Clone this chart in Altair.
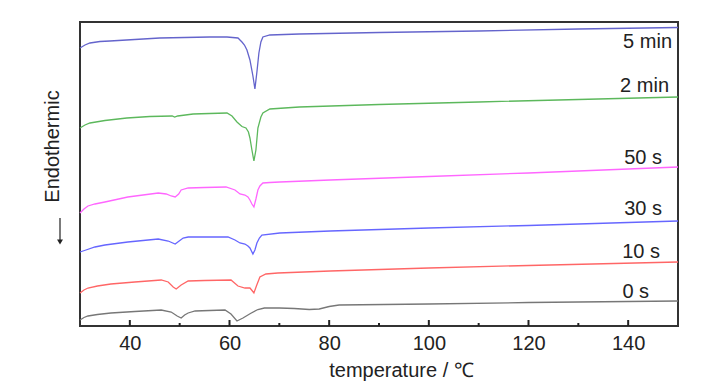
import altair as alt
import pandas as pd

# ---- data ----
series = ["5 min", "2 min", "50 s", "30 s", "10 s", "0 s"]
colors = ["#6464cc", "#5cb85c", "#ff66ff", "#6666ff", "#ff6666", "#777777"]

t_5min = [30, 31, 32, 34, 36, 41, 46, 51, 56, 59.5, 61.7, 62.5, 63, 63.5, 64.1, 64.7, 65.1, 65.5, 65.9, 66.3, 66.7, 68.1, 74, 90, 110, 130, 150]
v_5min = [278, 281, 283, 284.5, 285, 286.5, 288, 288.5, 289, 289, 288, 284, 281, 276, 266, 250, 237, 254, 273, 284, 289, 291, 292, 293.5, 295, 297, 298.5]

t_2min = [30, 31, 32, 35, 39.4, 44, 48.5, 49, 49.6, 52.7, 56, 59.5, 60.5, 61.5, 62.5, 63.3, 63.8, 64.1, 64.5, 64.9, 65.3, 65.7, 66.3, 66.7, 68.1, 74, 90, 110, 130, 150]
v_2min = [198, 201, 203, 205.5, 208, 209.5, 210, 209, 210, 212, 212.5, 213, 210, 204, 199.5, 198, 194, 188, 176, 165, 176, 198, 209, 213, 217, 219, 221.5, 224, 226.5, 229]

t_50s = [30, 30.8, 31.6, 33, 35, 39.6, 45.7, 47.3, 48.3, 49.1, 49.8, 50.3, 51.7, 55, 59.3, 61.1, 62.1, 63.1, 63.7, 64.1, 64.5, 64.9, 65.3, 65.7, 66.1, 66.7, 68.1, 70.1, 80.2, 100, 120, 150]
v_50s = [113, 117, 120, 122, 124, 129, 133, 132, 130, 129, 132, 136, 138, 138.5, 139, 136, 132, 131, 129, 126, 122, 119, 127, 136, 140, 143, 143.5, 144, 146, 149.5, 153, 159]

t_30s = [30, 31.2, 33, 35, 39.6, 45.7, 47.7, 49.1, 49.9, 50.7, 51.7, 55, 59.7, 61.1, 62.1, 63.1, 63.7, 64.1, 64.7, 65.1, 65.5, 66, 66.5, 70.1, 80.2, 100, 120, 150]
v_30s = [74, 76, 79, 81, 84, 87, 85, 82, 85, 88, 89, 89, 89, 86, 83, 82, 80, 78, 72, 76, 83, 88, 91, 93, 95, 98, 100.5, 105]

t_10s = [30, 30.8, 31.6, 33.5, 36.2, 41, 46.3, 47.7, 48.7, 49.3, 50.3, 51.7, 55, 60.3, 61.7, 63.1, 64.1, 64.6, 64.9, 65.4, 66.1, 67.3, 69.7, 80.2, 100, 120, 150]
v_10s = [33, 36, 38, 40, 42, 44, 46, 44, 39, 37, 41, 45, 45.5, 46, 40, 38, 38, 35, 33, 40, 49, 52, 53, 55, 58, 60.5, 64]

t_0s = [30, 30.8, 31.6, 33.5, 36.2, 41, 46.3, 48.3, 49.5, 50.3, 51, 51.7, 53.1, 56, 59.1, 60.3, 61.5, 62.7, 64.2, 65.7, 67, 70, 73, 76, 78, 80, 82, 100, 120, 150]
v_0s = [6, 8.5, 10, 11.5, 13, 14.5, 16, 14, 10, 8, 11, 13, 15, 15.5, 16, 12, 5, 8, 12.5, 16.5, 18, 18, 17.5, 16.5, 17, 19.5, 21, 22, 23.5, 25]

label_t = [148.8, 148.2, 146.8, 146.8, 146.4, 144.2]
label_v = [284, 240, 168, 117, 74, 34]

major_ticks = [40, 60, 80, 100, 120, 140]
minor_ticks = [50, 70, 90, 110, 130]

# ---- tables ----
curves = [(t_5min, v_5min), (t_2min, v_2min), (t_50s, v_50s), (t_30s, v_30s), (t_10s, v_10s), (t_0s, v_0s)]
rows = []
for name, (ts, vs) in zip(series, curves):
    for t, v in zip(ts, vs):
        rows.append({"series": name, "t": t, "v": v})
df = pd.DataFrame(rows)
lab = pd.DataFrame({"series": series, "t": label_t, "v": label_v})
maj = pd.DataFrame({"t": major_ticks})
mnr = pd.DataFrame({"t": minor_ticks})

FONT = "Liberation Sans"
W, H = 598, 304
xscale = alt.Scale(domain=[30, 150], nice=False, zero=False)
yscale = alt.Scale(domain=[0, 304], nice=False, zero=False)
cscale = alt.Scale(domain=series, range=colors)

xaxis = alt.Axis(values=major_ticks, title="temperature / ℃", domain=False, ticks=False,
                 grid=False, labelFontSize=20, labelColor="#222", labelPadding=7,
                 labelFont=FONT, titleFont=FONT, titleFontSize=20, titleFontWeight="normal",
                 titleColor="#222", titleX=321, titleY=50, titleBaseline="alphabetic")
yaxis = alt.Axis(title="Endothermic", domain=False, ticks=False, labels=False, grid=False,
                 titleFont=FONT, titleFontSize=20, titleFontWeight="normal", titleColor="#222",
                 titleX=-28, titleY=124, titleAngle=270, titleAlign="center",
                 titleBaseline="middle")


def X():
    return alt.X("t:Q", scale=xscale, axis=xaxis, title="temperature / ℃")


def Y():
    return alt.Y("v:Q", scale=yscale, axis=yaxis, title="Endothermic")


lines = alt.Chart(df).mark_line(strokeWidth=1.3).encode(
    x=X(), y=Y(),
    color=alt.Color("series:N", scale=cscale, legend=None),
    detail="series:N",
    order="t:Q",
)

labels = alt.Chart(lab).mark_text(align="right", baseline="middle", font=FONT, fontSize=20,
                                  color="#222").encode(
    x=X(), y=Y(), text="series:N",
)

major = alt.Chart(maj).mark_rule(color="#222", strokeWidth=2).encode(
    x=X(), y=alt.value(H - 6), y2=alt.value(H),
)
minor = alt.Chart(mnr).mark_rule(color="#222", strokeWidth=2).encode(
    x=X(), y=alt.value(H - 3), y2=alt.value(H),
)

arrow_line = alt.Chart(maj.head(1)).mark_rule(color="#222", strokeWidth=1.2).encode(
    x=alt.value(-20), y=alt.value(196), y2=alt.value(218),
)
arrow_head = alt.Chart(maj.head(1)).mark_point(shape="triangle-down", filled=True, color="#222",
                                               size=35, opacity=1).encode(
    x=alt.value(-20), y=alt.value(220),
)

chart = alt.layer(lines, labels, major, minor, arrow_line, arrow_head).properties(
    width=W, height=H,
    autosize=alt.AutoSizeParams(type="none"),
    padding={"left": 72, "top": 14, "right": 30, "bottom": 56},
    background="white",
).configure_view(stroke="#333", strokeWidth=2)

chart.save("out.html", embed_options={"renderer": "svg", "actions": False})
